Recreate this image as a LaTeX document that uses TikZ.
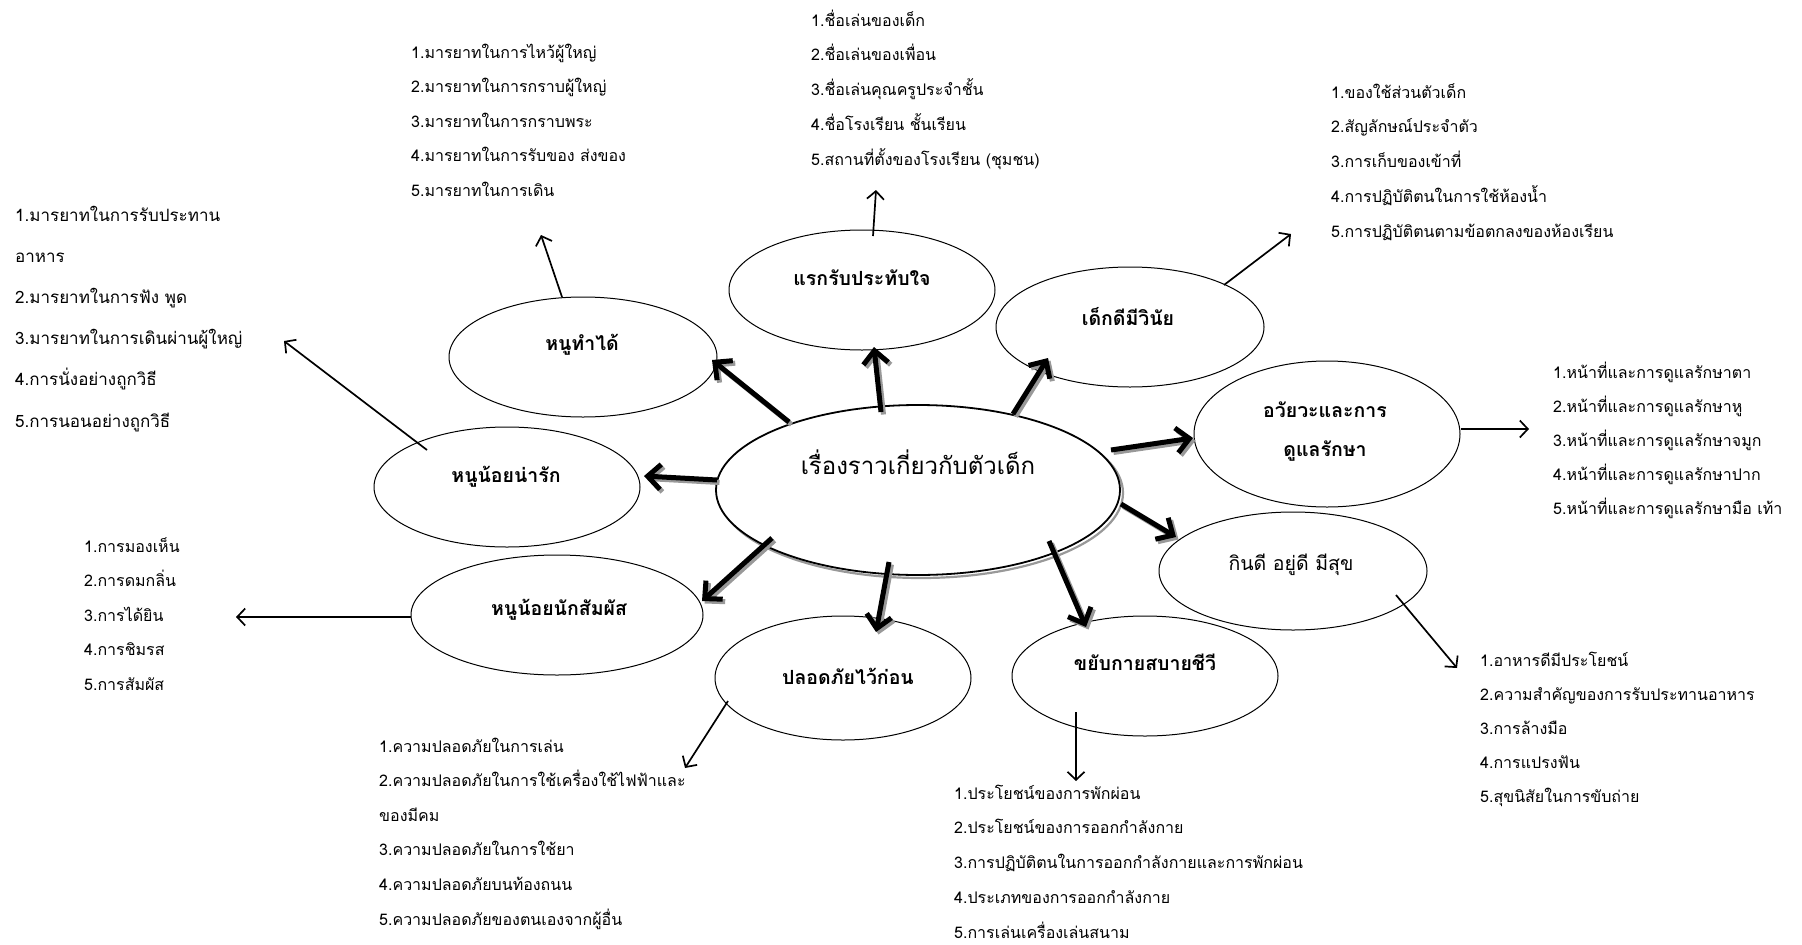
\documentclass[tikz,border=0pt]{standalone}
\usepackage{fontspec}
\setmainfont[Script=Thai]{Loma}
\usetikzlibrary{shapes.geometric,arrows.meta,calc}
\begin{document}
\begin{tikzpicture}[x=1pt,y=-1pt,
  ell/.style={draw, ellipse, line width=1pt, inner sep=0pt, fill=white},
  lbl/.style={font=\fontsize{19.5}{22}\selectfont\bfseries, inner sep=0pt},
  lst/.style={font=\fontsize{16}{20}\selectfont, inner sep=0pt, anchor=base west},
  lstb/.style={font=\fontsize{17}{20}\selectfont, inner sep=0pt, anchor=base west},
  big/.style={line width=5pt, -{Straight Barb[length=13pt,width=25pt]}},
  bigsh/.style={big, draw=black!40},
  lnk/.style={line width=1.7pt, -{Straight Barb[length=8pt,width=17pt]}}
]
\useasboundingbox (0,0) rectangle (1802,945);

% central ellipse with shadow
\node[ell, draw=black!40, line width=2.2pt, minimum width=404pt, minimum height=170pt] (cs) at (921,493) {};
\node[ell, line width=1.8pt, minimum width=404pt, minimum height=170pt] (c) at (918,490) {};
\node[font=\fontsize{24}{28}\selectfont, inner sep=0pt] (tc) at (918,462) {เรื่องราวเกี่ยวกับตัวเด็ก};

% child ellipses
\node[ell, minimum width=268pt, minimum height=120pt] (a1) at (583,357) {};
\node[ell, minimum width=266pt, minimum height=120pt] (a2) at (862,290) {};
\node[ell, minimum width=268pt, minimum height=120pt] (a3) at (1130,327) {};
\node[ell, minimum width=266pt, minimum height=146pt] (a4) at (1327,434) {};
\node[ell, minimum width=268pt, minimum height=118pt] (a5) at (1293,571) {};
\node[ell, minimum width=266pt, minimum height=120pt] (a6) at (1145,676) {};
\node[ell, minimum width=256pt, minimum height=124pt] (a7) at (843,678) {};
\node[ell, minimum width=292pt, minimum height=120pt] (a8) at (557,615) {};
\node[ell, minimum width=266pt, minimum height=120pt] (a9) at (507,487) {};

% labels
\node[lbl] (t1) at (582,345) {หนูทำได้};
\node[lbl] (t2) at (862,278) {แรกรับประทับใจ};
\node[lbl] (t3) at (1128,317) {เด็กดีมีวินัย};
\node[lbl] (t4a) at (1325,410) {อวัยวะและการ};
\node[lbl] (t4b) at (1325,451) {ดูแลรักษา};
\node[lbl, font=\fontsize{19.5}{22}\selectfont] (t5) at (1291,565) {กินดี อยู่ดี มีสุข};
\node[lbl] (t6) at (1145,662) {ขยับกายสบายชีวี};
\node[lbl] (t7) at (848,676) {ปลอดภัยไว้ก่อน};
\node[lbl] (t8) at (559,610) {หนูน้อยนักสัมผัส};
\node[lbl] (t9) at (506,477) {หนูน้อยน่ารัก};

% thick arrows with shadow: start offset from c, end node, end offset
\foreach \sx/\sy/\n/\ex/\ey in {-129/-68/a1/129/3, -37/-78/a2/12/57, 95/-76/a3/-82/31, 193/-40/a4/-134/4, 203/14/a5/-117/-34, 131/51/a6/-59/-49, -29/72/a7/33/-46, -146/48/a8/145/-14, -201/-10/a9/137/-11}{
  \draw[bigsh, transform canvas={shift={(2.5pt,-2.5pt)}}] ($(c)+(\sx,\sy)$) -- ($(\n)+(\ex,\ey)$);
  \draw[big] ($(c)+(\sx,\sy)$) -- ($(\n)+(\ex,\ey)$);
}

% free ends of thin arrows
\coordinate (p1) at (541,235);
\coordinate (p2) at (876,190);
\coordinate (p3) at (1291,234);
\coordinate (p4) at (1529,429);
\coordinate (p5) at (1457,668);
\coordinate (p6) at (1076,781);
\coordinate (p7) at (685,768);
\coordinate (p8) at (236,617);
\coordinate (p9) at (284,341);
\foreach \n/\sx/\sy/\p in {a1/-21/-60/p1, a2/11/-54/p2, a3/94/-42/p3, a4/134/-5/p4, a5/103/24/p5, a6/-69/36/p6, a7/-115/23/p7, a8/-146/2/p8, a9/-80/-37/p9}{
  \draw[lnk] ($(\n)+(\sx,\sy)$) -- (\p);
}

% lists
\foreach \t [count=\i] in {1.ชื่อเล่นของเด็ก, 2.ชื่อเล่นของเพื่อน, 3.ชื่อเล่นคุณครูประจำชั้น, 4.ชื่อโรงเรียน ชั้นเรียน, 5.สถานที่ตั้งของโรงเรียน (ชุมชน)}
  \node[lst] (la\i) at (811,{26+(\i-1)*34.75}) {\t};
\foreach \t [count=\i] in {1.มารยาทในการไหว้ผู้ใหญ่, 2.มารยาทในการกราบผู้ใหญ่, 3.มารยาทในการกราบพระ, 4.มารยาทในการรับของ ส่งของ, 5.มารยาทในการเดิน}
  \node[lst] (lb\i) at (411,{58+(\i-1)*34.5}) {\t};
\foreach \t [count=\i] in {1.ของใช้ส่วนตัวเด็ก, 2.สัญลักษณ์ประจำตัว, 3.การเก็บของเข้าที่, 4.การปฏิบัติตนในการใช้ห้องน้ำ, 5.การปฏิบัติตนตามข้อตกลงของห้องเรียน}
  \node[lst] (lc\i) at (1331,{98+(\i-1)*34.75}) {\t};
\foreach \t [count=\i] in {1.หน้าที่และการดูแลรักษาตา, 2.หน้าที่และการดูแลรักษาหู, 3.หน้าที่และการดูแลรักษาจมูก, 4.หน้าที่และการดูแลรักษาปาก, 5.หน้าที่และการดูแลรักษามือ เท้า}
  \node[lst] (ld\i) at (1553,{378+(\i-1)*34}) {\t};
\foreach \t [count=\i] in {1.อาหารดีมีประโยชน์, 2.ความสำคัญของการรับประทานอาหาร, 3.การล้างมือ, 4.การแปรงฟัน, 5.สุขนิสัยในการขับถ่าย}
  \node[lst] (le\i) at (1480,{666+(\i-1)*34}) {\t};
\foreach \t [count=\i] in {1.ประโยชน์ของการพักผ่อน, 2.ประโยชน์ของการออกกำลังกาย, 3.การปฏิบัติตนในการออกกำลังกายและการพักผ่อน, 4.ประเภทของการออกกำลังกาย, 5.การเล่นเครื่องเล่นสนาม}
  \node[lst] (lf\i) at (954,{799+(\i-1)*34.75}) {\t};
\foreach \t [count=\i] in {1.ความปลอดภัยในการเล่น, 2.ความปลอดภัยในการใช้เครื่องใช้ไฟฟ้าและ, ของมีคม, 3.ความปลอดภัยในการใช้ยา, 4.ความปลอดภัยบนท้องถนน, 5.ความปลอดภัยของตนเองจากผู้อื่น}
  \node[lst] (lg\i) at (379,{752+(\i-1)*34.6}) {\t};
\foreach \t [count=\i] in {1.การมองเห็น, 2.การดมกลิ่น, 3.การได้ยิน, 4.การชิมรส, 5.การสัมผัส}
  \node[lst] (lh\i) at (84,{552+(\i-1)*34.5}) {\t};
\foreach \t [count=\i] in {1.มารยาทในการรับประทาน, อาหาร, 2.มารยาทในการฟัง พูด, 3.มารยาทในการเดินผ่านผู้ใหญ่, 4.การนั่งอย่างถูกวิธี, 5.การนอนอย่างถูกวิธี}
  \node[lstb] (li\i) at (15,{221+(\i-1)*41.2}) {\t};
\end{tikzpicture}
\end{document}
